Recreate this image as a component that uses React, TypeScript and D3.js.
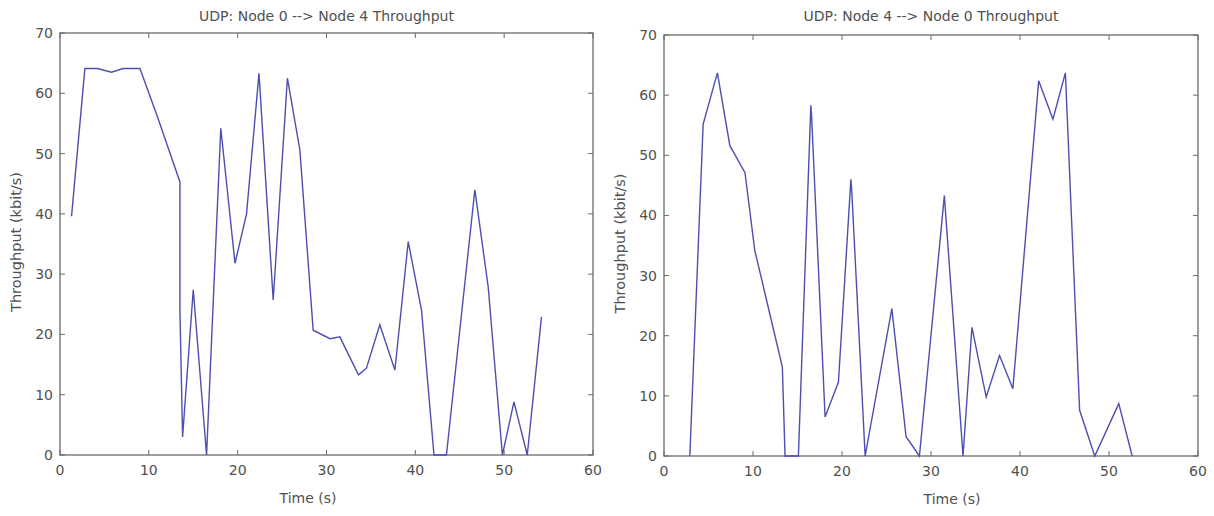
import React from "react";
import * as d3 from "d3";

const xTicks = [0, 10, 20, 30, 40, 50, 60];
const yTicks = [0, 10, 20, 30, 40, 50, 60, 70];

const leftTitle = "UDP: Node 0 --> Node 4 Throughput";
const rightTitle = "UDP: Node 4 --> Node 0 Throughput";
const xLabel = "Time (s)";
const yLabel = "Throughput (kbit/s)";

const leftTime = [1.3, 2.8, 4.2, 5.8, 7.1, 9.0, 11.0, 13.5, 13.5, 13.8, 15.0, 16.5, 18.1, 19.7, 21.0, 22.4, 24.0, 25.6, 27.0, 28.5, 30.4, 31.5, 33.6, 34.5, 36.0, 37.7, 39.2, 40.7, 42.1, 43.5, 46.7, 48.2, 49.8, 51.1, 52.6, 54.2];
const leftThroughput = [39.6, 64.1, 64.1, 63.5, 64.1, 64.1, 56, 45.3, 24, 3, 27.4, 0, 54.2, 31.8, 40, 63.3, 25.7, 62.5, 50.6, 20.7, 19.3, 19.6, 13.3, 14.4, 21.6, 14.1, 35.4, 24, 0, 0, 44, 27.9, 0, 8.8, 0, 22.9];

const rightTime = [2.9, 4.4, 6.0, 7.4, 9.1, 10.2, 13.3, 13.6, 15.1, 16.5, 16.6, 18.1, 19.6, 21.0, 21.1, 22.6, 25.6, 27.2, 28.7, 31.5, 33.6, 34.6, 36.2, 37.7, 39.2, 42.1, 43.7, 45.1, 46.7, 48.4, 51.1, 52.6];
const rightThroughput = [0, 55.2, 63.7, 51.6, 47.1, 34.2, 14.8, 0, 0, 58.3, 56, 6.5, 12.3, 46, 44, 0, 24.5, 3.2, 0, 43.3, 0, 21.4, 9.8, 16.7, 11.2, 62.4, 56, 63.7, 7.6, 0, 8.7, 0];

type PanelProps = {
  x0: number; x1: number; y0: number; y1: number;
  title: string; times: number[]; values: number[]; xLabelX: number;
};

const FONT = "'DejaVu Sans', Verdana, sans-serif";
const TEXT = "#505050";
const AXIS = "#6a6a6a";

function Panel({ x0, x1, y0, y1, title, times, values, xLabelX }: PanelProps) {
  const x = d3.scaleLinear().domain([0, 60]).range([x0, x1]);
  const y = d3.scaleLinear().domain([0, 70]).range([y1, y0]);
  const pts: [number, number][] = times.map((t, i) => [t, values[i]]);
  const line = d3.line<[number, number]>().x(d => x(d[0])).y(d => y(d[1]));
  const tl = 5;
  const cx = (x0 + x1) / 2;
  const cy = (y0 + y1) / 2;
  return (
    <g fontFamily={FONT}>
      <text x={cx} y={21} textAnchor="middle" fontSize={14} fill={TEXT}>{title}</text>
      <rect x={x0} y={y0} width={x1 - x0} height={y1 - y0} fill="white" stroke={AXIS} strokeWidth={1.3} />
      {xTicks.map(t => (
        <g key={"x" + t}>
          <line x1={x(t)} x2={x(t)} y1={y1} y2={y1 - tl} stroke={AXIS} />
          <line x1={x(t)} x2={x(t)} y1={y0} y2={y0 + tl} stroke={AXIS} />
          <text x={x(t)} y={y1 + 20} textAnchor="middle" fontSize={14} fill={TEXT}>{t}</text>
        </g>
      ))}
      {yTicks.map(t => (
        <g key={"y" + t}>
          <line x1={x0} x2={x0 + tl} y1={y(t)} y2={y(t)} stroke={AXIS} />
          <line x1={x1} x2={x1 - tl} y1={y(t)} y2={y(t)} stroke={AXIS} />
          <text x={x0 - 7} y={y(t) + 5} textAnchor="end" fontSize={14} fill={TEXT}>{t}</text>
        </g>
      ))}
      <path d={line(pts) || ""} fill="none" stroke="#4e4eb0" strokeWidth={1.4} strokeLinejoin="miter" />
      <text x={xLabelX} y={y1 + 48} textAnchor="middle" fontSize={14} fill={TEXT}>{xLabel}</text>
      <text transform={`translate(${x0 - 39},${cy - 2}) rotate(-90)`} textAnchor="middle" fontSize={14.5} fill={TEXT}>{yLabel}</text>
    </g>
  );
}

export default function App() {
  return (
    <svg width={1214} height={516} style={{ position: "absolute", left: 0, top: 0, background: "white" }}>
      <rect x={0} y={0} width={1214} height={516} fill="white" />
      <Panel x0={60} x1={593} y0={33} y1={455} title={leftTitle} times={leftTime} values={leftThroughput} xLabelX={308} />
      <Panel x0={664} x1={1198} y0={35} y1={456} title={rightTitle} times={rightTime} values={rightThroughput} xLabelX={952} />
    </svg>
  );
}
